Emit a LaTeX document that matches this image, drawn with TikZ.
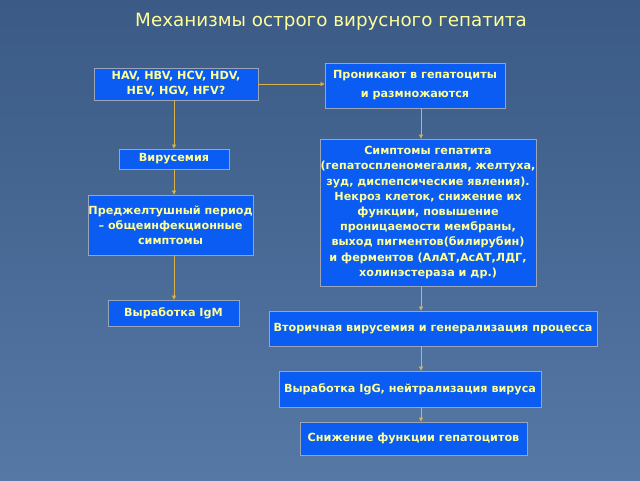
\documentclass[tikz,border=0pt]{standalone}
\usepackage{fontspec}
\setmainfont{DejaVu Sans}
\usetikzlibrary{arrows.meta}
\definecolor{bgtop}{HTML}{3B5A86}
\definecolor{bgbot}{HTML}{5678A4}
\definecolor{boxfill}{HTML}{0A5CF2}
\definecolor{boxline}{HTML}{9AA6B8}
\definecolor{txt}{HTML}{FFFF99}
\definecolor{arr}{HTML}{D9B24A}
\tikzset{
  bx/.style={draw=boxline, line width=0.8pt, fill=boxfill, text=txt, font=\bfseries\fontsize{11.2}{15}\selectfont, align=center, inner sep=0pt, anchor=center},
  conn/.style={draw=arr, line width=0.7pt, -{Triangle[length=4pt,width=4pt]}}
}
\begin{document}
\begin{tikzpicture}[x=1pt,y=-1pt]
\shade[top color=bgtop, bottom color=bgbot] (0,0) rectangle (640,480);
\useasboundingbox (0,0) rectangle (640,480);
\node[text=txt, font=\fontsize{18.3}{22}\selectfont] (title) at (331,22) {Механизмы острого вирусного гепатита};
\node[bx, minimum width=164pt, minimum height=32pt] (hav) at (176,84) {HAV, HBV, HCV, HDV,\\HEV, HGV, HFV?};
\node[bx, minimum width=180pt, minimum height=45pt, font=\bfseries\fontsize{11.2}{19}\selectfont] (pron) at (415,85.5) {Проникают в гепатоциты\\и размножаются};
\node[bx, minimum width=110pt, minimum height=20pt] (vir) at (174,159) {Вирусемия};
\node[bx, minimum width=165pt, minimum height=60pt] (pred) at (170.5,225) {Преджелтушный период\\– общеинфекционные\\симптомы};
\node[bx, minimum width=131pt, minimum height=26pt] (igm) at (173.5,313) {Выработка IgM};
\node[bx, minimum width=216pt, minimum height=147pt, font=\bfseries\fontsize{11.2}{15.2}\selectfont] (simp) at (428,212.5) {Симптомы гепатита\\(гепатоспленомегалия, желтуха,\\зуд, диспепсические явления).\\Некроз клеток, снижение их\\функции, повышение\\проницаемости мембраны,\\выход пигментов(билирубин)\\и ферментов (АлАТ,АсАТ,ЛДГ,\\холинэстераза и др.)};
\node[bx, minimum width=328pt, minimum height=35pt] (vtor) at (433,328.5) {Вторичная вирусемия и генерализация процесса};
\node[bx, minimum width=262pt, minimum height=36pt] (igg) at (410,389) {Выработка IgG, нейтрализация вируса};
\node[bx, minimum width=227pt, minimum height=33pt] (sniz) at (413.5,438.5) {Снижение функции гепатоцитов};
\coordinate (rc) at (421,0);
\draw[conn] (hav.east) -- (pron.west |- hav.east);
\draw[conn] (hav.south -| vir) -- (vir.north);
\draw[conn] (vir.south) -- (pred.north -| vir);
\draw[conn] (pred.south -| vir) -- (igm.north -| vir);
\draw[conn] (pron.south -| rc) -- (simp.north -| rc);
\draw[conn] (simp.south -| rc) -- (vtor.north -| rc);
\draw[conn] (vtor.south -| rc) -- (igg.north -| rc);
\draw[conn] (igg.south -| rc) -- (sniz.north -| rc);
\end{tikzpicture}
\end{document}
